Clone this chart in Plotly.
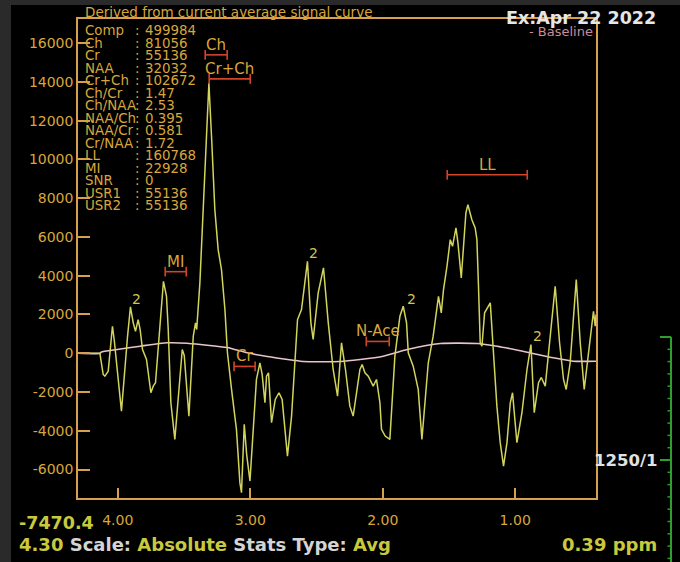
import plotly.graph_objects as go

# ---- spectrum data -------------------------------------------------------
# chemical shift (ppm) and intensity of the averaged signal curve
ppm = [4.30, 4.135, 4.110, 4.097, 4.072, 4.040, 4.027, 3.972, 3.926, 3.904,
       3.883, 3.866, 3.846, 3.831, 3.813, 3.783, 3.750, 3.732, 3.715, 3.695,
       3.674, 3.655, 3.632, 3.619, 3.599, 3.569, 3.513, 3.498, 3.463, 3.430,
       3.413, 3.404, 3.380, 3.312, 3.292, 3.267, 3.242, 3.217, 3.191, 3.172,
       3.141, 3.104, 3.078, 3.066, 3.045, 3.027, 3.002, 2.985, 2.953, 2.927,
       2.910, 2.889, 2.877, 2.862, 2.839, 2.811, 2.783, 2.759, 2.719, 2.688,
       2.663, 2.643, 2.613, 2.587, 2.568, 2.542, 2.525, 2.487, 2.447, 2.411,
       2.374, 2.341, 2.311, 2.281, 2.248, 2.223, 2.172, 2.155, 2.134, 2.109,
       2.072, 2.047, 2.021, 2.009, 1.981, 1.946, 1.908, 1.870, 1.845, 1.820,
       1.807, 1.770, 1.732, 1.704, 1.656, 1.619, 1.594, 1.579, 1.558, 1.541,
       1.515, 1.490, 1.473, 1.447, 1.432, 1.407, 1.390, 1.372, 1.357, 1.327,
       1.302, 1.289, 1.277, 1.264, 1.251, 1.231, 1.188, 1.176, 1.163, 1.138,
       1.113, 1.088, 1.062, 1.037, 1.020, 0.987, 0.949, 0.911, 0.881, 0.856,
       0.824, 0.803, 0.773, 0.741, 0.698, 0.665, 0.635, 0.615, 0.585, 0.539,
       0.509, 0.479, 0.446, 0.409, 0.396, 0.39]
signal = [0, 0, -1095, -1183, -925, 1394, 709, -2987, 879, 2394,
          1569, 1136, 1739, 1224, 193, -322, -2038, -1698, -1523, 363,
          2425, 3713, 2940, 1224, -2554, -4445, 193, -116, -3244, 879,
          1569, 1224, 3631, 13939, 11187, 7409, 5347, 4316, 2255, 23,
          -1868, -3930, -6677, -7192, -3672, -5218, -6595, -4961, -1353, -492,
          -1095, -2554, -1183, -1008, -3585, -2384, -2038, -2384, -5306, -3244,
          -322, 1739, 2255, 3801, 4744, 1569, 709, 3116, 4404, 1569,
          -838, -2214, 539, -838, -2729, -3244, -838, -580, -1008, -1183,
          -1698, -1353, -2554, -3930, -4275, -4445, -152, 1910, 2425, 1569,
          23, -667, -1868, -4445, -492, 879, 2255, 2940, 2085, 3286,
          4487, 5863, 5517, 6466, 5693, 3889, 5517, 7239, 7667, 6893,
          6466, 5863, 3456, 539, 363, 2085, 2600, 1224, 23, -2729,
          -4615, -5821, -4615, -2554, -2038, -4615, -3069, -838, 451, -3069,
          -1523, -1250, -1698, 539, 3456, 539, -1353, -1868, -492, 3801,
          539, -1868, 193, 2167, 1394, 2000]

# fitted baseline
base_ppm = [4.30, 4.132, 4.125, 4.004, 3.831, 3.627, 3.476, 3.355, 3.174, 3.023,
            2.872, 2.676, 2.601, 2.322, 2.171, 1.996, 1.815, 1.566, 1.287, 1.136,
            0.909, 0.713, 0.562, 0.39]
base_val = [0, 0, 60, 193, 363, 539, 518, 436, 296, 23,
            -168, -358, -425, -425, -322, -152, 193, 503, 503, 363,
            54, -235, -410, -410]

# metabolite integration regions
region_names = ["Ch", "Cr+Ch", "MI", "Cr", "N-Ace", "LL"]
region_start = [3.340, 3.310, 3.642, 3.122, 2.124, 1.513]
region_end = [3.174, 3.000, 3.483, 2.963, 1.951, 0.909]
region_level = [15400, 14160, 4210, -680, 610, 9210]

# multiplicity markers
mult_ppm = [3.855, 2.522, 1.785, 0.828]
mult_val = [2806, 5177, 2806, 915]
mult_text = ["2", "2", "2", "2"]

# statistics panel
stat_names = ["Comp", "Ch", "Cr", "NAA", "Cr+Ch", "Ch/Cr", "Ch/NAA", "NAA/Ch",
              "NAA/Cr", "Cr/NAA", "LL", "MI", "SNR", "USR1", "USR2"]
stat_values = ["499984", "81056", "55136", "32032", "102672", "1.47", "2.53",
               "0.395", "0.581", "1.72", "160768", "22928", "0", "55136", "55136"]

# axes
x_range = [4.30, 0.39]
y_range = [-7470.4, 17250]
x_ticks = [4, 3, 2, 1]
x_tick_text = ["4.00", "3.00", "2.00", "1.00"]
y_ticks = [-6000, -4000, -2000, 0, 2000, 4000, 6000, 8000, 10000, 12000, 14000, 16000]
y_tick_text = [str(v) for v in y_ticks]

# ---- styling -------------------------------------------------------------
W, H = 680, 562
L, R, T, B = 78, 596, 19, 498
ORANGE = "#d9a63a"
AXIS = "#d6a04c"
YELLOW = "#d2d45c"
PINK = "#e8c4cc"
RED = "#d2452a"
OLIVE = "#c9c93e"
GREY = "#d4d4d4"
GREEN = "#2e9e2e"
FONT = "DejaVu Sans"


def px(x):
    return (x - L) / (R - L)


def py(y):
    return (B - y) / (B - T)


fig = go.Figure()

fig.add_trace(go.Scatter(x=base_ppm, y=base_val, mode="lines",
                         line=dict(color=PINK, width=1.6, shape="spline", smoothing=0.6),
                         hoverinfo="skip"))
fig.add_trace(go.Scatter(x=ppm, y=signal, mode="lines",
                         line=dict(color=YELLOW, width=1.5), name="signal"))

annotations = []
for name, a, b, lev in zip(region_names, region_start, region_end, region_level):
    fig.add_trace(go.Scatter(
        x=[a, b], y=[lev, lev], mode="lines+markers",
        line=dict(color=RED, width=1.6),
        marker=dict(symbol="line-ns-open", size=7, line=dict(color=RED, width=1.6)),
        hoverinfo="skip"))
    annotations.append(dict(x=(a + b) / 2, y=lev, xref="x", yref="y", text=name,
                            showarrow=False, yshift=10, yanchor="middle",
                            font=dict(family=FONT, size=15, color=ORANGE)))

for xm, ym, t in zip(mult_ppm, mult_val, mult_text):
    annotations.append(dict(x=xm, y=ym, xref="x", yref="y", text=t, showarrow=False,
                            font=dict(family=FONT, size=14, color="#cfc45a")))

# statistics block
row0, row_step = 30.7, 12.5
for i, (n, v) in enumerate(zip(stat_names, stat_values)):
    yy = py(row0 + i * row_step)
    for xpix, txt in ((83, n), (133, ":"), (143, v)):
        annotations.append(dict(x=px(xpix), y=yy, xref="paper", yref="paper", text=txt,
                                showarrow=False, xanchor="left", yanchor="middle",
                                font=dict(family=FONT, size=13.4, color=ORANGE)))


def label(xpix, ypix, text, size, color, anchor="left", bold=False):
    if bold:
        text = "<b>" + text + "</b>"
    annotations.append(dict(x=px(xpix), y=py(ypix), xref="paper", yref="paper",
                            text=text, showarrow=False, xanchor=anchor, yanchor="middle",
                            font=dict(family=FONT, size=size, color=color)))


label(83, 12.3, "Derived from current average signal curve", 13.5, ORANGE)
label(658, 17.5, "Ex:Apr 22 2022", 17.5, "#e6e6e6", anchor="right", bold=True)
label(595, 31, "- Baseline", 13, "#c98c9a", anchor="right")
label(16.5, 523, "-7470.4", 17.5, OLIVE, bold=True)
label(16.5, 544,
      f"4.30 <span style='color:{GREY}'>Scale:</span> Absolute "
      f"<span style='color:{GREY}'>Stats Type:</span> Avg", 18, OLIVE, bold=True)
label(658.5, 544, "0.39 ppm", 18, OLIVE, anchor="right", bold=True)
label(658.5, 460, "1250/1", 16.5, "#e2e2e2", anchor="right", bold=True)

# frame strips and the green scale bar on the right
shapes = [
    dict(type="rect", xref="paper", yref="paper", x0=px(0), x1=px(11), y0=py(H), y1=py(0),
         fillcolor="#2a2a2a", line=dict(width=0), layer="below"),
    dict(type="rect", xref="paper", yref="paper", x0=px(0), x1=px(W), y0=py(5), y1=py(0),
         fillcolor="#2a2a2a", line=dict(width=0), layer="below"),
    dict(type="line", xref="paper", yref="paper", x0=px(671), x1=px(671), y0=py(337), y1=py(H),
         line=dict(color=GREEN, width=2)),
    dict(type="line", xref="paper", yref="paper", x0=px(660), x1=px(671), y0=py(337), y1=py(337),
         line=dict(color=GREEN, width=2)),
    dict(type="line", xref="paper", yref="paper", x0=px(660), x1=px(671), y0=py(460), y1=py(460),
         line=dict(color=GREEN, width=2)),
]
k = 1
while 337 + 12.3 * k < H:
    yy = 337 + 12.3 * k
    shapes.append(dict(type="line", xref="paper", yref="paper", x0=px(667.5), x1=px(671),
                       y0=py(yy), y1=py(yy), line=dict(color=GREEN, width=1.5)))
    k += 1

axis_common = dict(showgrid=False, zeroline=False, showline=True, linecolor=AXIS,
                   linewidth=1.5, mirror=True, ticks="inside", tickcolor=AXIS,
                   tickwidth=1.5, tickfont=dict(family=FONT, size=14, color=ORANGE))

fig.update_layout(
    width=W, height=H,
    margin=dict(l=L, r=W - R, t=T, b=H - B, pad=0),
    paper_bgcolor="black", plot_bgcolor="black",
    showlegend=False,
    font=dict(family=FONT),
    xaxis=dict(range=x_range, tickvals=x_ticks, ticktext=x_tick_text, ticklen=10,
               ticklabelstandoff=8, **axis_common),
    yaxis=dict(range=y_range, tickvals=y_ticks, ticktext=y_tick_text, ticklen=12,
               **axis_common),
    annotations=annotations,
    shapes=shapes,
)

fig.write_html("out.html")
